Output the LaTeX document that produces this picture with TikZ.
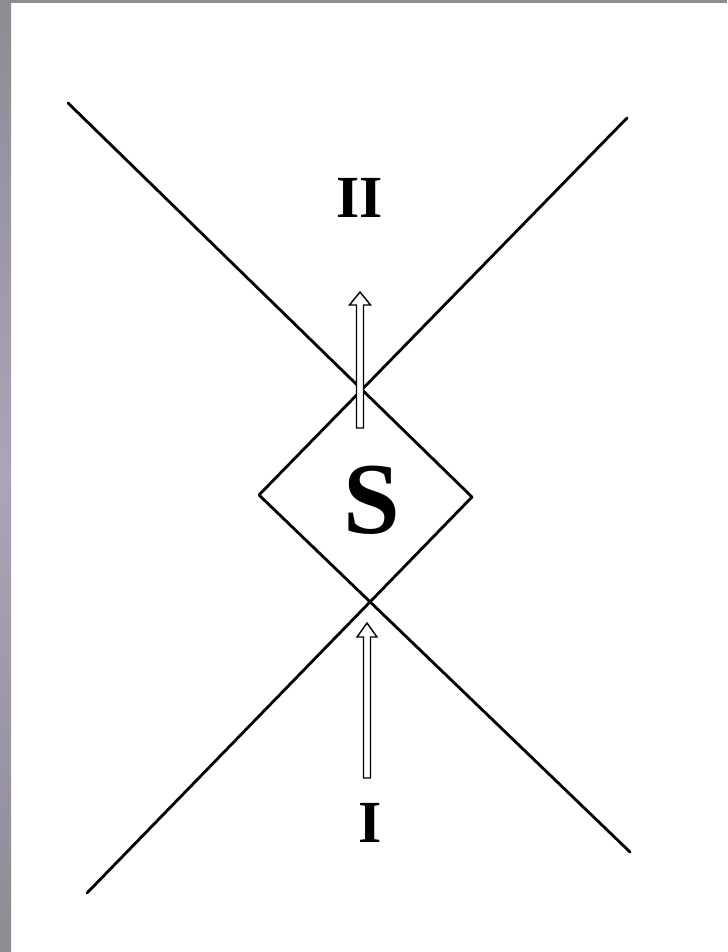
\documentclass[tikz,border=0pt]{standalone}
\usepackage{fontspec}
\setmainfont{Liberation Serif}
\usepackage{tikz}
\usetikzlibrary{positioning}

\definecolor{scanedge}{RGB}{142,139,147}
\definecolor{scanmid}{RGB}{172,164,184}

\tikzset{
    worldline/.style={line width=1.6pt, line cap=round},
    hollowarrow/.style={line width=0.8pt, fill=white, line join=miter},
    region/.style={inner sep=0pt, font=\fontsize{34}{34}\selectfont\bfseries},
}

\begin{document}
\begin{tikzpicture}[x=0.02cm, y=-0.02cm]
    \useasboundingbox (0,0) rectangle (727,952);
    \fill[white] (0,0) rectangle (727,952);
    \shade[top color=scanedge, bottom color=scanedge, middle color=scanmid] (0,0) rectangle (11,952);
    \fill[scanedge] (0,0) rectangle (727,3);

    % ends of the lines and corners of the diamond
    \coordinate (ul) at (68,103);
    \coordinate (ur) at (627,118);
    \coordinate (ll) at (87,893);
    \coordinate (lr) at (630,852);
    \coordinate (left) at (259,495);
    \coordinate (right) at (472,497);

    \draw[worldline] (ul) -- (right);
    \draw[worldline] (ur) -- (left);
    \draw[worldline] (ll) -- (right);
    \draw[worldline] (lr) -- (left);

    % hollow arrows
    \draw[hollowarrow] (356.5,428) -- (356.5,305) -- (349.5,305) -- (360,292)
        -- (370.5,305) -- (363.5,305) -- (363.5,428) -- cycle;
    \draw[hollowarrow] (363.5,778) -- (363.5,637) -- (357,637) -- (367,623)
        -- (377,637) -- (370.5,637) -- (370.5,778) -- cycle;

    \node (two) [region] at (360,198) {II};
    \node (s) [region, font=\fontsize{58}{58}\selectfont\bfseries] at (372,500) {S};
    \node (one) [region] at (370,823) {I};
\end{tikzpicture}
\end{document}
